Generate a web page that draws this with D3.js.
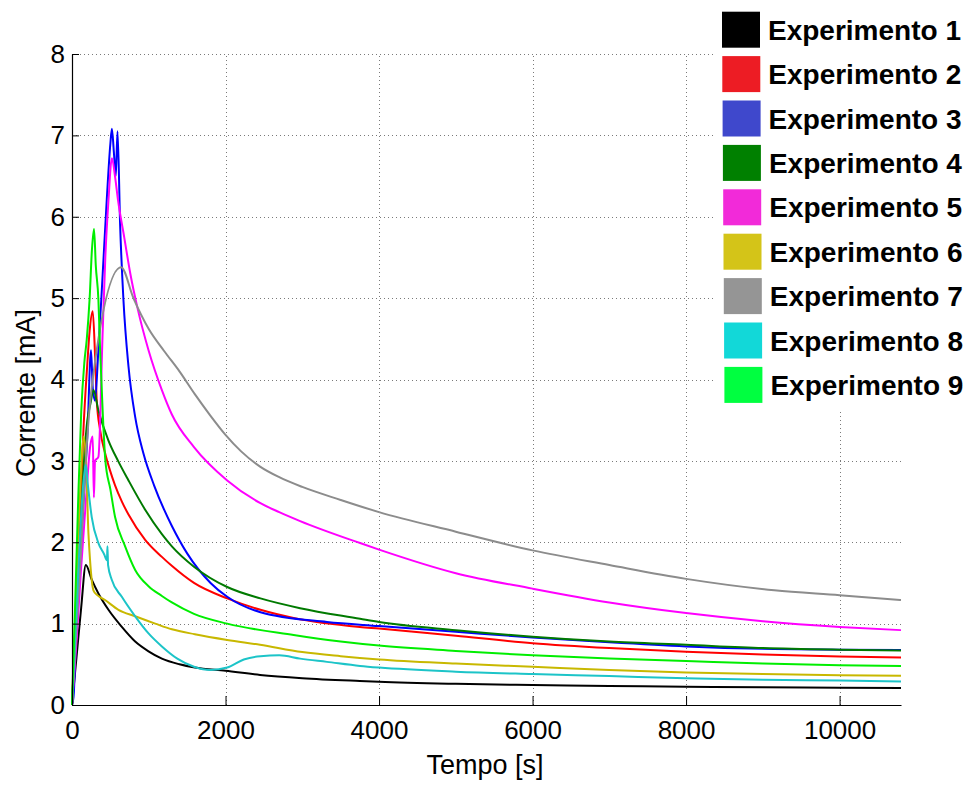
<!DOCTYPE html>
<html>
<head>
<meta charset="utf-8">
<script src="https://cdn.jsdelivr.net/npm/d3@7"></script>
<style>
  html, body { margin: 0; padding: 0; background: #ffffff; }
  svg { display: block; }
  text { font-family: "Liberation Sans", Arial, Helvetica, sans-serif; }
</style>
</head>
<body>
<svg id="chart" width="976" height="785"></svg>
<script>
// Axis ticks
const timeTicks = [0, 2000, 4000, 6000, 8000, 10000];
const currentTicks = [0, 1, 2, 3, 4, 5, 6, 7, 8];

// Series labels and colours
const experimentNames = ["Experimento 1", "Experimento 2", "Experimento 3", "Experimento 4",
  "Experimento 5", "Experimento 6", "Experimento 7", "Experimento 8", "Experimento 9"];
const lineColors = ["#000000", "#ff0000", "#0000ff", "#007a00", "#ff00ff",
  "#c8b800", "#8c8c8c", "#1cc4c8", "#00ee00"];
const legendColors = ["#000000", "#ed1c24", "#3f48cc", "#008000", "#f22ad9",
  "#d4c418", "#959595", "#12d8d8", "#00ff40"];

// Current [mA] versus time [s] for each experiment
const exp1 = [[0,0],[60,0.6],[120,1.2],[180,1.72],[257,1.54],[344,1.37],[475,1.17],[649,0.96],
  [823,0.78],[997,0.66],[1171,0.57],[1400,0.5],[1600,0.46],[2000,0.42],[2450,0.37],[3000,0.33],
  [3750,0.295],[4000,0.285],[5000,0.26],[6000,0.245],[7000,0.235],[8000,0.225],[9000,0.218],
  [10000,0.213],[10800,0.21]];
const exp2 = [[0,0],[50,1.0],[100,2.2],[150,3.4],[200,4.2],[230,4.6],[270,4.84],[300,4.3],
  [322,3.75],[366,3.38],[430,3.1],[496,2.88],[561,2.7],[650,2.5],[736,2.34],[953,2.03],
  [1171,1.82],[1300,1.71],[1589,1.5],[2022,1.31],[2455,1.17],[2887,1.07],[3750,0.96],
  [4000,0.94],[5000,0.85],[6000,0.76],[7000,0.7],[8000,0.655],[9000,0.62],[10000,0.595],
  [10800,0.585]];
const exp3 = [[0,0],[20,0.1],[61,1.09],[105,1.7],[150,2.5],[200,3.3],[248,4.36],[270,3.9],
  [300,3.74],[340,4.3],[400,5.3],[453,6.21],[500,6.9],[520,7.08],[545,6.8],[570,6.5],[593,7.05],
  [627,5.9],[670,4.98],[736,4.16],[823,3.54],[931,3.09],[1069,2.7],[1200,2.4],[1301,2.2],
  [1502,1.86],[1805,1.5],[2022,1.33],[2455,1.14],[3321,1.02],[4000,0.97],[5000,0.9],
  [6000,0.83],[7000,0.77],[8000,0.72],[9000,0.69],[10000,0.68],[10800,0.675]];
const exp4 = [[0,0],[50,1.0],[100,2.0],[150,2.9],[200,3.5],[240,3.7],[279,3.87],[344,3.62],
  [475,3.25],[600,3.0],[736,2.76],[953,2.4],[1171,2.1],[1301,1.95],[1589,1.7],[2022,1.45],
  [2455,1.31],[2972,1.19],[3753,1.06],[4000,1.02],[5000,0.92],[6000,0.84],[7000,0.78],
  [8000,0.74],[9000,0.7],[10000,0.68],[10800,0.67]];
const exp5 = [[0,0],[60,0.8],[120,1.7],[180,2.5],[240,3.2],[270,3.3],[285,2.55],[300,3.0],
  [344,3.05],[400,4.6],[434,5.5],[475,6.2],[520,6.72],[560,6.5],[600,6.2],[680,5.75],[760,5.3],
  [853,4.88],[997,4.36],[1171,3.87],[1301,3.57],[1589,3.17],[2022,2.76],[2455,2.48],
  [2700,2.37],[2972,2.26],[3753,1.99],[4000,1.91],[5000,1.62],[6000,1.43],[7000,1.26],
  [8000,1.13],[9000,1.03],[10000,0.96],[10800,0.92]];
const exp6 = [[0,0],[40,1.0],[80,2.0],[120,2.9],[150,3.3],[180,3.05],[214,2.11],[235,1.78],
  [279,1.41],[330,1.35],[431,1.29],[605,1.17],[823,1.09],[1084,1.0],[1301,0.93],[1600,0.87],
  [2022,0.8],[2450,0.74],[3000,0.65],[3500,0.6],[4000,0.56],[5000,0.51],[6000,0.47],
  [7000,0.43],[8000,0.4],[9000,0.38],[10000,0.365],[10800,0.36]];
const exp7 = [[0,0],[100,1.6],[200,3.3],[250,3.85],[640,5.38],[800,5.0],[1000,4.62],
  [1200,4.35],[1400,4.1],[1600,3.82],[1800,3.56],[2000,3.32],[2200,3.12],[2450,2.93],
  [2700,2.8],[3000,2.68],[3500,2.52],[4000,2.37],[5000,2.13],[6000,1.9],[7000,1.72],
  [8000,1.55],[9150,1.41],[10000,1.35],[10800,1.29]];
const exp8 = [[0,0],[50,1.0],[100,2.0],[150,2.75],[180,2.95],[205,2.72],[257,2.31],[344,1.99],
  [420,1.85],[455,1.78],[462,1.95],[470,1.72],[518,1.54],[649,1.33],[823,1.09],[997,0.88],
  [1171,0.72],[1372,0.57],[1589,0.47],[1805,0.43],[2022,0.46],[2238,0.56],[2455,0.6],
  [2700,0.61],[2972,0.57],[3321,0.53],[3753,0.48],[4000,0.46],[5000,0.41],[6000,0.38],
  [7000,0.355],[8000,0.33],[9000,0.31],[10000,0.3],[10800,0.29]];
const exp9 = [[0,0],[40,1.2],[80,2.5],[120,3.6],[160,4.2],[192,4.49],[230,5.0],[260,5.6],
  [287,5.85],[310,5.4],[344,4.98],[366,4.37],[400,3.6],[434,3.01],[500,2.65],[561,2.31],
  [692,1.95],[823,1.66],[997,1.46],[1171,1.34],[1301,1.26],[1589,1.12],[2022,1.0],[2887,0.86],
  [3500,0.78],[4000,0.73],[5000,0.665],[6000,0.61],[7000,0.57],[8000,0.54],[9000,0.51],
  [10000,0.49],[10800,0.48]];

const experiments = [exp1, exp2, exp3, exp4, exp5, exp6, exp7, exp8, exp9];

const svg = d3.select("#chart");
svg.append("rect").attr("width", 976).attr("height", 785).attr("fill", "#fff");

const x = d3.scaleLinear().domain([0, 10800]).range([72, 901]);
const y = d3.scaleLinear().domain([0, 8]).range([705, 54]);

// Dotted grid
const grid = svg.append("g").attr("stroke", "#7a7a7a").attr("stroke-width", 1)
  .attr("stroke-dasharray", "1,3").attr("shape-rendering", "crispEdges");
grid.selectAll("line.v").data(timeTicks.filter(d => d > 0)).join("line")
  .attr("class", "v")
  .attr("x1", d => Math.round(x(d)) + 0.5).attr("x2", d => Math.round(x(d)) + 0.5)
  .attr("y1", y(0)).attr("y2", y(8));
grid.selectAll("line.h").data(currentTicks.filter(d => d > 0)).join("line")
  .attr("class", "h")
  .attr("y1", d => Math.round(y(d)) + 0.5).attr("y2", d => Math.round(y(d)) + 0.5)
  .attr("x1", x(0)).attr("x2", x(10800));

// Current curves
const line = d3.line()
  .x(d => x(d[0]))
  .y(d => y(d[1]))
  .curve(d3.curveMonotoneX);

svg.append("g").selectAll("path").data(experiments).join("path")
  .attr("d", line)
  .attr("fill", "none")
  .attr("stroke", (d, i) => lineColors[i])
  .attr("stroke-width", 2)
  .attr("stroke-linejoin", "round");

// Axes with inward ticks
const xAxis = d3.axisBottom(x).tickValues(timeTicks).tickFormat(d3.format("d"))
  .tickSizeInner(-9).tickSizeOuter(0).tickPadding(16);
const gx = svg.append("g").attr("transform", `translate(0,${y(0)})`).call(xAxis);

const yAxis = d3.axisLeft(y).tickValues(currentTicks).tickFormat(d3.format("d"))
  .tickSizeInner(-7).tickSizeOuter(0).tickPadding(7);
const gy = svg.append("g").attr("transform", `translate(${x(0)},0)`).call(yAxis);

[gx, gy].forEach(g => {
  g.select(".domain").attr("stroke", "#000").attr("stroke-width", 1.2);
  g.selectAll(".tick line").attr("stroke", "#000");
  g.selectAll(".tick text").attr("fill", "#000").attr("font-size", 26)
    .style("font-family", "'Liberation Sans', Arial, sans-serif");
});

// Axis titles
svg.append("text")
  .attr("x", 485).attr("y", 774)
  .attr("text-anchor", "middle").attr("font-size", 27).attr("fill", "#000")
  .text("Tempo [s]");
svg.append("text")
  .attr("transform", "translate(35,393) rotate(-90)")
  .attr("text-anchor", "middle").attr("font-size", 27).attr("fill", "#000")
  .text("Corrente [mA]");

// Legend
const legend = svg.append("g");
legend.append("rect").attr("x", 716).attr("y", 0).attr("width", 260).attr("height", 410)
  .attr("fill", "#fff");
const items = legend.selectAll("g.item").data(experimentNames).join("g")
  .attr("class", "item")
  .attr("transform", (d, i) => `translate(${722 + i * 0.3},${11.7 + i * 44.4})`);
items.append("rect").attr("width", 38).attr("height", 36)
  .attr("fill", (d, i) => legendColors[i]);
items.append("text")
  .attr("x", 46).attr("y", 28)
  .attr("font-size", 28).attr("font-weight", "bold").attr("fill", "#000")
  .text(d => d);
</script>
</body>
</html>
